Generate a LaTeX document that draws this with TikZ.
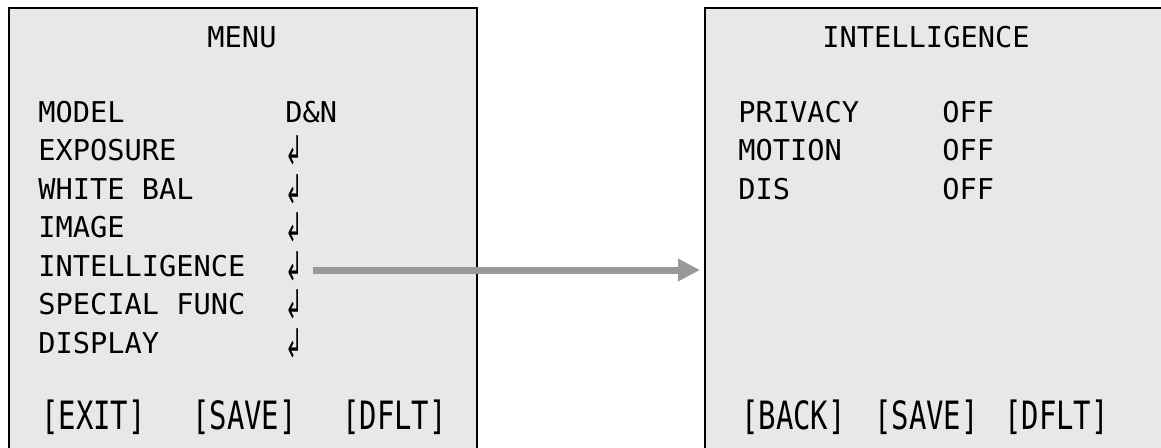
\documentclass[tikz,border=0pt]{standalone}
\usepackage{fontspec}
\setmonofont{DejaVu Sans Mono}
\newfontfamily\arrowfont{DejaVu Sans}
\usetikzlibrary{arrows.meta}

\definecolor{panelfill}{RGB}{232,232,232}
\definecolor{linkgray}{RGB}{153,153,153}

\tikzset{
  panel/.style={draw=black, line width=1.5pt, fill=panelfill, anchor=north west,
    inner sep=0pt, minimum width=351pt, minimum height=340pt},
  osd/.style={anchor=base west, inner sep=0pt, font=\fontsize{21.5}{24}\selectfont\ttfamily},
  osdtitle/.style={osd, anchor=base},
  link/.style={draw=linkgray, line width=5.25pt, -{Triangle[length=16.5pt,width=16pt]}}
}
\newcommand{\osdbtn}[1]{\scalebox{1.01}[1.36]{#1}}
\newcommand{\osdenter}{\smash{\raisebox{-3pt}{\scalebox{0.72}[1.38]{\arrowfont\fontsize{21.5}{24}\selectfont ↲}}}}

\begin{document}
\begin{tikzpicture}[x=0.75pt,y=-0.75pt]
      \useasboundingbox (0,0) rectangle (1161,447);
      \clip (0,0) rectangle (1161,447);

      %Shape: Panels
      \node[panel] (menu) at (8,7) {};
      \node[panel] (intel) at (704,7) {};

      % Text Node: menu panel
      \node[osdtitle] (menuTitle) at (242,47) {MENU};
      \node[osd] (model) at (38,122) {MODEL};
      \node[osd] (modelVal) at (285,122) {D\&N};
      \node[osd] (expo) at (38,160.5) {EXPOSURE};
      \node[osd] (expoVal) at (285,160.5) {\osdenter};
      \node[osd] (wbal) at (38,199) {WHITE BAL};
      \node[osd] (wbalVal) at (285,199) {\osdenter};
      \node[osd] (image) at (38,237.5) {IMAGE};
      \node[osd] (imageVal) at (285,237.5) {\osdenter};
      \node[osd] (intelli) at (38,276) {INTELLIGENCE};
      \node[osd] (intelliVal) at (285,276) {\osdenter};
      \node[osd] (special) at (38,314.5) {SPECIAL FUNC};
      \node[osd] (specialVal) at (285,314.5) {\osdenter};
      \node[osd] (display) at (38,353) {DISPLAY};
      \node[osd] (displayVal) at (285,353) {\osdenter};
      \node[osd] (exitBtn) at (41,429) {\osdbtn{[EXIT]}};
      \node[osd] (saveBtnL) at (192,429) {\osdbtn{[SAVE]}};
      \node[osd] (dfltBtnL) at (342,429) {\osdbtn{[DFLT]}};

      % Text Node: intelligence panel
      \node[osdtitle] (intelTitle) at (926,47) {INTELLIGENCE};
      \node[osd] (privacy) at (738,122) {PRIVACY};
      \node[osd] (privacyVal) at (942,122) {OFF};
      \node[osd] (motion) at (738,160.5) {MOTION};
      \node[osd] (motionVal) at (942,160.5) {OFF};
      \node[osd] (dis) at (738,199) {DIS};
      \node[osd] (disVal) at (942,199) {OFF};
      \node[osd] (backBtn) at (741,429) {\osdbtn{[BACK]}};
      \node[osd] (saveBtnR) at (874,429) {\osdbtn{[SAVE]}};
      \node[osd] (dfltBtnR) at (1004,429) {\osdbtn{[DFLT]}};

      %Arrow: submenu link
      \draw[link, shorten <=7.5pt, shorten >=3pt]
        ([yshift=4.5pt]intelliVal.base east) -- ([yshift=4.5pt]intelliVal.base east -| intel.west);

\end{tikzpicture}
\end{document}
